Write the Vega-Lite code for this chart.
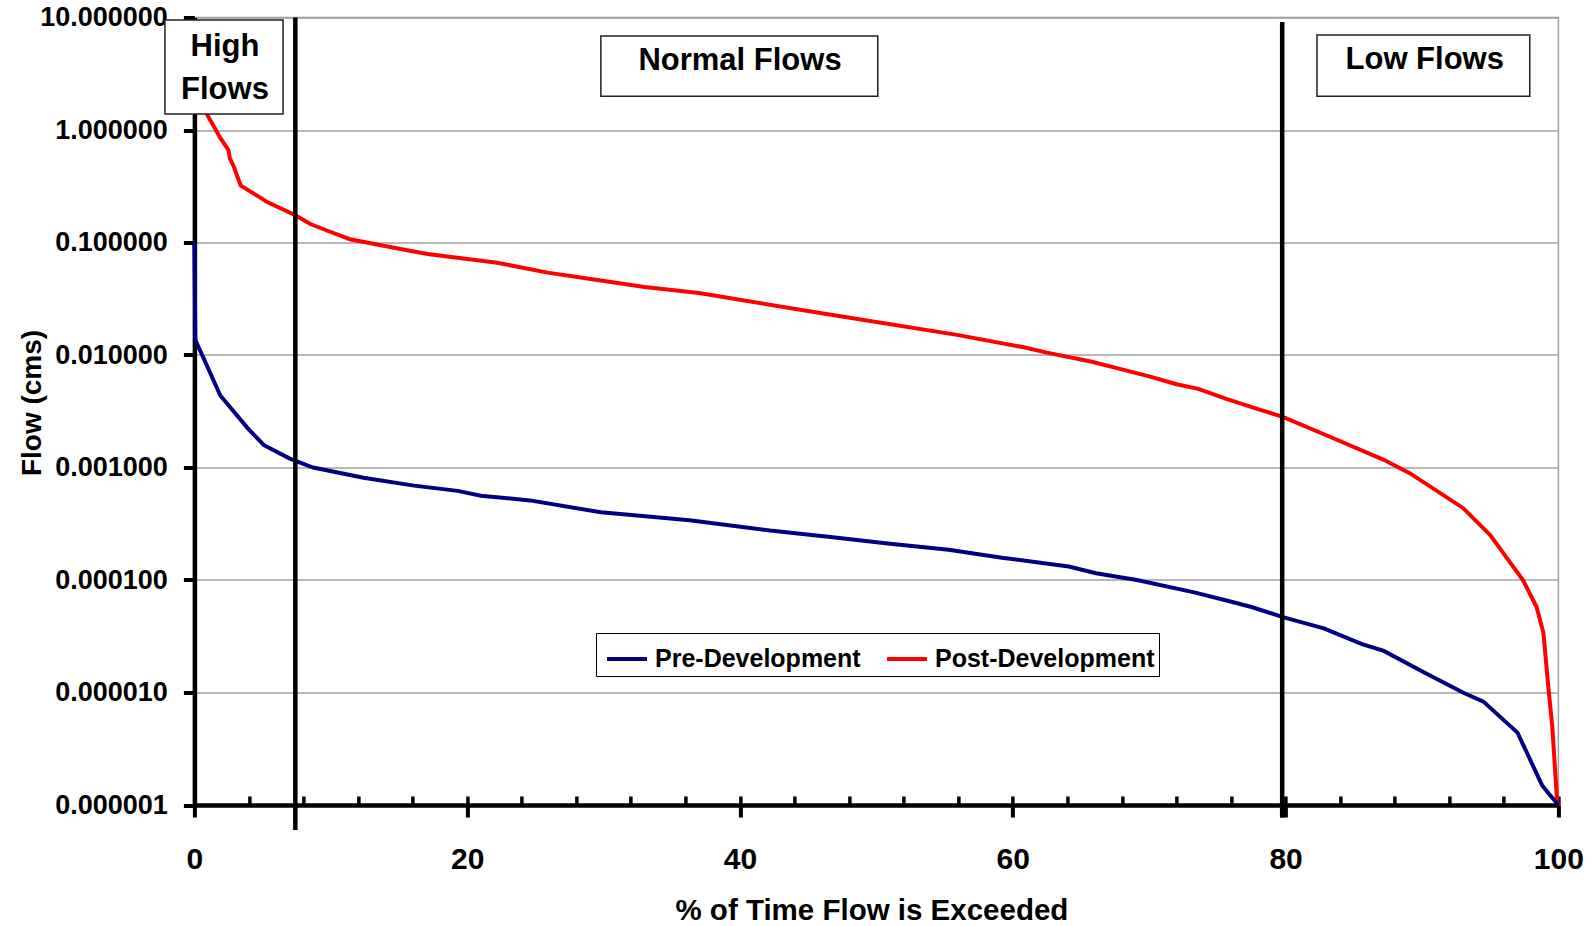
{
  "$schema": "https://vega.github.io/schema/vega-lite/v6.json",
  "width": 1364,
  "height": 787.5,
  "autosize": {"type": "none"},
  "padding": {"left": 194.4, "top": 17.5, "right": 36.6, "bottom": 121},
  "background": "white",
  "config": {
    "font": "Liberation Sans",
    "view": {"stroke": "#a0a0a0", "strokeWidth": 1.5},
    "axis": {
      "labelFont": "Liberation Sans",
      "labelFontWeight": "bold",
      "labelColor": "black",
      "titleFont": "Liberation Sans",
      "titleFontWeight": "bold",
      "titleColor": "black",
      "domainColor": "black",
      "tickColor": "black"
    },
    "legend": {
      "orient": "none",
      "legendX": 401.6,
      "legendY": 615.5,
      "direction": "horizontal",
      "strokeColor": "black",
      "fillColor": "white",
      "padding": 4,
      "symbolOffset": 5,
      "symbolType": "stroke",
      "symbolSize": 1600,
      "symbolStrokeWidth": 4,
      "labelFont": "Liberation Sans",
      "labelFontWeight": "bold",
      "labelFontSize": 25,
      "labelColor": "black",
      "labelOffset": 6,
      "labelLimit": 400,
      "columnPadding": 18
    }
  },
  "datasets": {
    "curves": [
      {"pct": 0, "flow": 2.5, "series": "Post-Development"},
      {"pct": 0.95, "flow": 1.36, "series": "Post-Development"},
      {"pct": 1.9, "flow": 0.85, "series": "Post-Development"},
      {"pct": 2.3, "flow": 0.72, "series": "Post-Development"},
      {"pct": 2.5, "flow": 0.66, "series": "Post-Development"},
      {"pct": 2.6, "flow": 0.56, "series": "Post-Development"},
      {"pct": 2.9, "flow": 0.47, "series": "Post-Development"},
      {"pct": 3.1, "flow": 0.4, "series": "Post-Development"},
      {"pct": 3.4, "flow": 0.32, "series": "Post-Development"},
      {"pct": 4.3, "flow": 0.275, "series": "Post-Development"},
      {"pct": 5.3, "flow": 0.23, "series": "Post-Development"},
      {"pct": 7.4, "flow": 0.175, "series": "Post-Development"},
      {"pct": 8.5, "flow": 0.146, "series": "Post-Development"},
      {"pct": 10.0, "flow": 0.124, "series": "Post-Development"},
      {"pct": 11.4, "flow": 0.107, "series": "Post-Development"},
      {"pct": 13.6, "flow": 0.095, "series": "Post-Development"},
      {"pct": 15.1, "flow": 0.0875, "series": "Post-Development"},
      {"pct": 17.1, "flow": 0.079, "series": "Post-Development"},
      {"pct": 22.2, "flow": 0.066, "series": "Post-Development"},
      {"pct": 25.9, "flow": 0.054, "series": "Post-Development"},
      {"pct": 29.8, "flow": 0.046, "series": "Post-Development"},
      {"pct": 33.0, "flow": 0.0402, "series": "Post-Development"},
      {"pct": 37.0, "flow": 0.0355, "series": "Post-Development"},
      {"pct": 46.1, "flow": 0.0234, "series": "Post-Development"},
      {"pct": 55.9, "flow": 0.0151, "series": "Post-Development"},
      {"pct": 60.8, "flow": 0.0117, "series": "Post-Development"},
      {"pct": 62.5, "flow": 0.0105, "series": "Post-Development"},
      {"pct": 65.8, "flow": 0.0087, "series": "Post-Development"},
      {"pct": 67.7, "flow": 0.0076, "series": "Post-Development"},
      {"pct": 70.0, "flow": 0.00646, "series": "Post-Development"},
      {"pct": 72.0, "flow": 0.0055, "series": "Post-Development"},
      {"pct": 73.6, "flow": 0.005, "series": "Post-Development"},
      {"pct": 75.6, "flow": 0.0041, "series": "Post-Development"},
      {"pct": 78.2, "flow": 0.00324, "series": "Post-Development"},
      {"pct": 79.8, "flow": 0.00282, "series": "Post-Development"},
      {"pct": 83.5, "flow": 0.00182, "series": "Post-Development"},
      {"pct": 87.2, "flow": 0.00117, "series": "Post-Development"},
      {"pct": 89.1, "flow": 0.00089, "series": "Post-Development"},
      {"pct": 93.0, "flow": 0.000437, "series": "Post-Development"},
      {"pct": 95.0, "flow": 0.000251, "series": "Post-Development"},
      {"pct": 96.2, "flow": 0.000158, "series": "Post-Development"},
      {"pct": 97.4, "flow": 0.0001, "series": "Post-Development"},
      {"pct": 98.4, "flow": 0.0000575, "series": "Post-Development"},
      {"pct": 98.9, "flow": 0.0000339, "series": "Post-Development"},
      {"pct": 99.3, "flow": 0.00001, "series": "Post-Development"},
      {"pct": 99.55, "flow": 0.000005, "series": "Post-Development"},
      {"pct": 99.9, "flow": 0.0000011, "series": "Post-Development"},
      {"pct": 100, "flow": 0.000001, "series": "Post-Development"},
      {"pct": 0, "flow": 0.1, "series": "Pre-Development"},
      {"pct": 0.07, "flow": 0.0136, "series": "Pre-Development"},
      {"pct": 0.6, "flow": 0.0098, "series": "Pre-Development"},
      {"pct": 1.9, "flow": 0.00437, "series": "Pre-Development"},
      {"pct": 3.9, "flow": 0.00224, "series": "Pre-Development"},
      {"pct": 5.1, "flow": 0.00158, "series": "Pre-Development"},
      {"pct": 7.0, "flow": 0.0012, "series": "Pre-Development"},
      {"pct": 8.7, "flow": 0.001, "series": "Pre-Development"},
      {"pct": 12.4, "flow": 0.00081, "series": "Pre-Development"},
      {"pct": 16.1, "flow": 0.00069, "series": "Pre-Development"},
      {"pct": 19.3, "flow": 0.00062, "series": "Pre-Development"},
      {"pct": 21.0, "flow": 0.00056, "series": "Pre-Development"},
      {"pct": 24.6, "flow": 0.00051, "series": "Pre-Development"},
      {"pct": 29.8, "flow": 0.0004, "series": "Pre-Development"},
      {"pct": 36.3, "flow": 0.00034, "series": "Pre-Development"},
      {"pct": 42.2, "flow": 0.000275, "series": "Pre-Development"},
      {"pct": 46.8, "flow": 0.00024, "series": "Pre-Development"},
      {"pct": 51.0, "flow": 0.00021, "series": "Pre-Development"},
      {"pct": 55.3, "flow": 0.000186, "series": "Pre-Development"},
      {"pct": 59.2, "flow": 0.000158, "series": "Pre-Development"},
      {"pct": 64.1, "flow": 0.000132, "series": "Pre-Development"},
      {"pct": 66.1, "flow": 0.000115, "series": "Pre-Development"},
      {"pct": 69.1, "flow": 0.0001, "series": "Pre-Development"},
      {"pct": 73.3, "flow": 0.0000776, "series": "Pre-Development"},
      {"pct": 75.6, "flow": 0.000066, "series": "Pre-Development"},
      {"pct": 77.5, "flow": 0.0000575, "series": "Pre-Development"},
      {"pct": 79.8, "flow": 0.0000468, "series": "Pre-Development"},
      {"pct": 82.8, "flow": 0.0000372, "series": "Pre-Development"},
      {"pct": 85.6, "flow": 0.0000269, "series": "Pre-Development"},
      {"pct": 87.2, "flow": 0.0000234, "series": "Pre-Development"},
      {"pct": 90.2, "flow": 0.000015, "series": "Pre-Development"},
      {"pct": 93.0, "flow": 0.00001, "series": "Pre-Development"},
      {"pct": 94.5, "flow": 0.0000083, "series": "Pre-Development"},
      {"pct": 97.0, "flow": 0.0000044, "series": "Pre-Development"},
      {"pct": 98.8, "flow": 0.0000015, "series": "Pre-Development"},
      {"pct": 99.3, "flow": 0.00000126, "series": "Pre-Development"},
      {"pct": 100, "flow": 0.000001, "series": "Pre-Development"}
    ],
    "dividers": [
      {"pct": 7.4, "top": 10, "bottom": 0.0000006},
      {"pct": 79.75, "top": 9.1, "bottom": 0.00000077}
    ],
    "boxes": [
      {"x1": -2.16, "x2": 6.5, "y1": 9.5, "y2": 1.387, "label": ["High", "Flows"], "cx": 2.24, "cy": 5.47},
      {"x1": 29.8, "x2": 50.1, "y1": 6.85, "y2": 2.0, "label": "Normal Flows", "cx": 40.0, "cy": 4.1},
      {"x1": 82.3, "x2": 97.9, "y1": 6.99, "y2": 2.0, "label": "Low Flows", "cx": 90.2, "cy": 4.19}
    ]
  },
  "layer": [
    {
      "data": {"name": "curves"},
      "mark": {"type": "line", "strokeWidth": 4, "clip": false},
      "encoding": {
        "x": {
          "field": "pct", "type": "quantitative",
          "scale": {"domain": [0, 100], "nice": false, "zero": false},
          "axis": {
            "orient": "bottom",
            "values": [0, 20, 40, 60, 80, 100],
            "format": "d",
            "grid": false,
            "tickSize": 12, "tickWidth": 4,
            "domainWidth": 4.5,
            "labelFontSize": 30, "labelPadding": 27, "labelFlush": false,
            "title": "% of Time Flow is Exceeded",
            "titleFontSize": 29.5,
            "titleX": 677, "titleY": 114,
            "titleBaseline": "alphabetic", "titleAlign": "center"
          }
        },
        "y": {
          "field": "flow", "type": "quantitative",
          "scale": {"type": "log", "domain": [0.000001, 10], "nice": false},
          "axis": {
            "values": [0.000001, 0.00001, 0.0001, 0.001, 0.01, 0.1, 1, 10],
            "format": ".6f",
            "grid": true, "gridColor": "#a0a0a0", "gridWidth": 1.5,
            "tickSize": 11, "tickWidth": 4,
            "domainWidth": 4.5,
            "labelFontSize": 27, "labelPadding": 16,
            "title": "Flow (cms)",
            "titleFontSize": 28,
            "titleX": -154, "titleY": 385, "titleAngle": 270,
            "titleBaseline": "alphabetic", "titleAlign": "center"
          }
        },
        "color": {
          "field": "series", "type": "nominal",
          "scale": {"domain": ["Pre-Development", "Post-Development"], "range": ["#000080", "#ff0000"]},
          "legend": {"title": null}
        },
        "order": {"field": "pct", "type": "quantitative"}
      }
    },
    {
      "data": {"name": "dividers"},
      "mark": {"type": "rule", "color": "black", "strokeWidth": 4.5, "clip": false},
      "encoding": {
        "x": {
          "field": "pct", "type": "quantitative",
          "axis": {
            "orient": "bottom",
            "values": [0, 4, 8, 12, 16, 20, 24, 28, 32, 36, 40, 44, 48, 52, 56, 60, 64, 68, 72, 76, 80, 84, 88, 92, 96, 100],
            "labels": false, "domain": false, "grid": false,
            "tickSize": -9, "tickWidth": 3.5,
            "title": null
          }
        },
        "y": {"field": "top", "type": "quantitative"},
        "y2": {"field": "bottom"}
      }
    },
    {
      "data": {"name": "boxes"},
      "mark": {"type": "rect", "fill": "white", "stroke": "#222222", "strokeWidth": 1.5, "clip": false},
      "encoding": {
        "x": {"field": "x1", "type": "quantitative", "axis": null},
        "x2": {"field": "x2"},
        "y": {"field": "y1", "type": "quantitative"},
        "y2": {"field": "y2"}
      }
    },
    {
      "data": {"name": "boxes"},
      "mark": {"type": "text", "font": "Liberation Sans", "fontWeight": "bold", "fontSize": 31, "color": "black", "align": "center", "baseline": "middle", "lineHeight": 43, "clip": false},
      "encoding": {
        "x": {"field": "cx", "type": "quantitative", "axis": null},
        "y": {"field": "cy", "type": "quantitative"},
        "text": {"field": "label"}
      }
    }
  ],
  "resolve": {"axis": {"x": "independent"}}
}
